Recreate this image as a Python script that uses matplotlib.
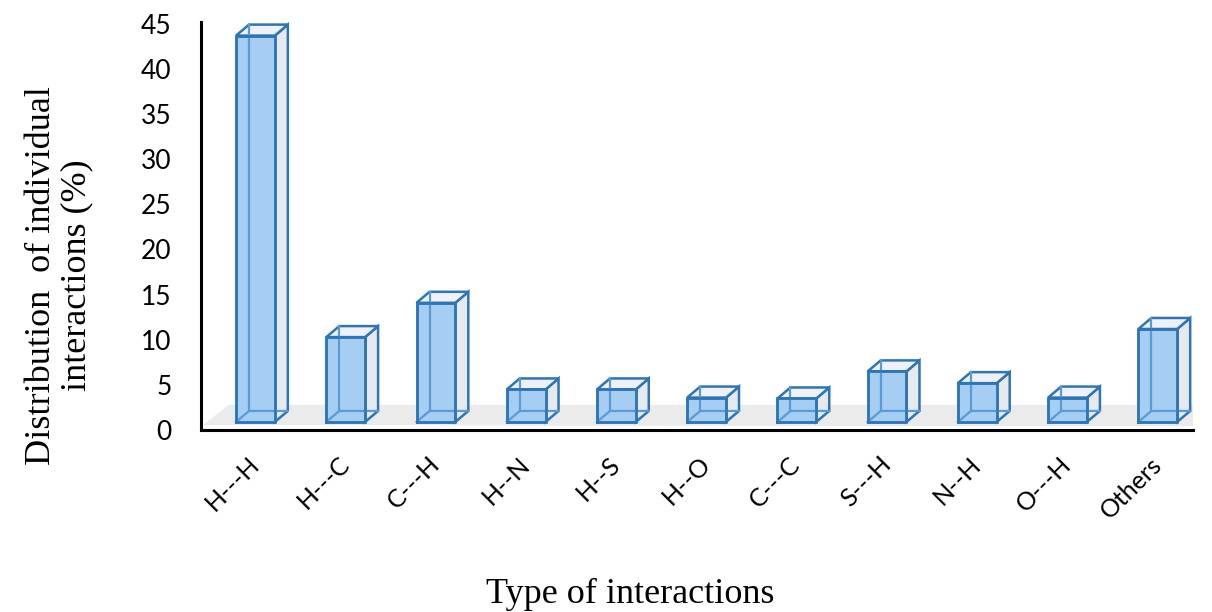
import matplotlib.pyplot as plt
from matplotlib.patches import Polygon

categories = ['H---H', 'H---C', 'C---H', 'H--N', 'H--S', 'H--O',
              'C---C', 'S---H', 'N--H', 'O---H', 'Others']
values = [42.8, 9.4, 13.2, 3.6, 3.6, 2.7, 2.6, 5.6, 4.3, 2.7, 10.3]
yticks = [0, 5, 10, 15, 20, 25, 30, 35, 40, 45]

edge = '#2E75B6'
inner = '#5B9BD5'
front_fill = '#A6CDF2'
side_fill = '#E6EAEF'
top_fill = '#EEF2F6'

fig = plt.figure(figsize=(12.12, 6.12), dpi=100)
ax = fig.add_axes([0.1658, 0.2974, 0.8185, 0.6667])

width = 0.43
dx, dy = 0.144, 1.22      # depth offset of the 3d boxes
base = 0.89               # bars stand on the floor a little above the axis

# grey floor slab
floor = Polygon([(-0.58, 0.55), (-0.30, 2.78), (10.55, 2.78), (10.38, 0.4)],
                closed=True, facecolor='#EBEBEB', edgecolor='none', zorder=0)
ax.add_patch(floor)

x = list(range(len(categories)))
bars = ax.bar(x, values, width=width, bottom=base, color=front_fill,
              edgecolor=edge, linewidth=1.8, zorder=4)

for rect in bars:
    x0 = rect.get_x()
    x1 = x0 + rect.get_width()
    y0 = rect.get_y()
    y1 = y0 + rect.get_height()
    side = Polygon([(x1, y0), (x1 + dx, y0 + dy), (x1 + dx, y1 + dy), (x1, y1)],
                   closed=True, facecolor=side_fill, edgecolor=edge,
                   linewidth=1.8, zorder=3)
    top = Polygon([(x0, y1), (x0 + dx, y1 + dy), (x1 + dx, y1 + dy), (x1, y1)],
                  closed=True, facecolor=top_fill, edgecolor=edge,
                  linewidth=1.8, zorder=3)
    ax.add_patch(side)
    ax.add_patch(top)
    # hidden edges seen through the front face
    ax.plot([x0 + dx, x0 + dx], [y0 + dy, y1 + dy], color=inner, lw=1.6, zorder=5)
    ax.plot([x0, x0 + dx, x1 + dx], [y0, y0 + dy, y0 + dy], color=inner, lw=1.6, zorder=5)
    # redraw front outline on top
    ax.plot([x0, x1, x1, x0, x0], [y0, y0, y1, y1, y0], color=edge, lw=1.8, zorder=6)

ax.set_xlim(-0.604, 10.39)
ax.set_ylim(0, 45.2)
ax.set_yticks(yticks)
ax.set_yticklabels([str(t) for t in yticks], fontsize=19, family='Lato')
ax.tick_params(axis='y', length=0, pad=21)
ax.set_xticks(x)
ax.set_xticklabels(categories, rotation=45, ha='right', va='center',
                   rotation_mode='anchor', fontsize=18, family='Lato')
ax.tick_params(axis='x', length=0, pad=22)

for s in ['top', 'right']:
    ax.spines[s].set_visible(False)
ax.spines['left'].set_linewidth(2.2)
ax.spines['bottom'].set_linewidth(2.2)

fig.text(0.52, 0.028, 'Type of interactions', ha='center', va='center',
         fontsize=26, family='Liberation Serif')
fig.text(0.034, 0.55, 'Distribution  of individual', rotation=90,
         ha='center', va='center', fontsize=26, family='Liberation Serif')
fig.text(0.063, 0.55, 'interactions (%)', rotation=90,
         ha='center', va='center', fontsize=26, family='Liberation Serif')

plt.savefig('out.png', dpi=100)
